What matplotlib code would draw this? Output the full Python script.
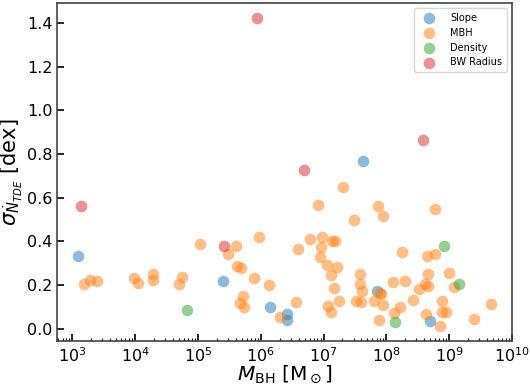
import numpy as np
import matplotlib
matplotlib.use("Agg")
from matplotlib import pyplot as plt

# log10(M_BH / M_sun) and sigma [dex]
slope_logm = [3.085, 5.40, 6.14, 6.42, 6.42, 7.63, 7.85, 8.70]
slope_sig = [0.331, 0.217, 0.100, 0.069, 0.038, 0.770, 0.175, 0.035]

mbh_logm = [3.18, 3.28, 3.39, 3.976, 4.05, 4.285, 4.285, 4.70, 4.75, 5.04,
            5.48, 5.61, 5.62, 5.68, 5.675, 5.71, 5.74, 5.89, 5.98, 6.13,
            6.30, 6.556, 6.60, 6.78, 6.91, 6.95, 6.965, 6.976, 7.05, 7.065,
            7.12, 7.12, 7.135, 7.18, 7.17, 7.21, 7.25, 7.315, 7.48, 7.51,
            7.58, 7.58, 7.59, 7.62, 7.81, 7.87, 7.89, 7.90, 7.92, 7.95,
            7.95, 8.10, 8.12, 8.22, 8.255, 8.29, 8.43, 8.52, 8.61, 8.625,
            8.65, 8.67, 8.67, 8.775, 8.78, 8.85, 8.88, 8.89, 8.95, 8.99,
            9.08, 9.40, 9.67]
mbh_sig = [0.207, 0.224, 0.221, 0.233, 0.210, 0.252, 0.223, 0.203, 0.235, 0.388,
           0.342, 0.378, 0.288, 0.279, 0.119, 0.150, 0.098, 0.232, 0.420, 0.201,
           0.056, 0.122, 0.366, 0.412, 0.567, 0.330, 0.375, 0.418, 0.290, 0.105,
           0.246, 0.075, 0.400, 0.403, 0.188, 0.282, 0.127, 0.647, 0.500, 0.127,
           0.249, 0.204, 0.124, 0.175, 0.127, 0.560, 0.041, 0.165, 0.160, 0.514,
           0.111, 0.214, 0.072, 0.102, 0.352, 0.218, 0.133, 0.182, 0.204, 0.070,
           0.331, 0.250, 0.194, 0.340, 0.548, 0.014, 0.079, 0.128, 0.076, 0.255,
           0.189, 0.047, 0.114]

dens_logm = [4.82, 8.14, 8.92, 9.15]
dens_sig = [0.086, 0.029, 0.380, 0.204]

bw_logm = [3.14, 5.41, 5.94, 6.69, 8.585]
bw_sig = [0.564, 0.381, 1.420, 0.728, 0.864]

groups = [("Slope", slope_logm, slope_sig, "tab:blue"),
          ("MBH", mbh_logm, mbh_sig, "tab:orange"),
          ("Density", dens_logm, dens_sig, "tab:green"),
          ("BW Radius", bw_logm, bw_sig, "tab:red")]

fig = plt.figure(figsize=(5.3, 3.85), dpi=100)
ax = fig.add_axes([0.108, 0.114, 0.858, 0.878])

for name, lm, sg, col in groups:
    ax.scatter(10 ** np.array(lm), sg, s=70, color=col, alpha=0.5,
               linewidths=0, label=name)

ax.set_xscale("log")
ax.set_xlim(10 ** 2.76, 1e10)
ax.set_xticks([1e3, 1e4, 1e5, 1e6, 1e7, 1e8, 1e9, 1e10])
ax.set_yticks([0.0, 0.2, 0.4, 0.6, 0.8, 1.0, 1.2, 1.4])
ax.tick_params(which="major", direction="in", length=5, width=1.2, labelsize=11.5)
ax.tick_params(which="minor", direction="in", length=2.5, width=0.8)
for sp in ax.spines.values():
    sp.set_color("#444444")
    sp.set_linewidth(1.2)

ax.set_xlabel(r"$M_{\rm BH}$ [M$_\odot$]", fontsize=14.5, labelpad=-1)
ax.set_ylabel(r"$\sigma_{\dot{N}_{TDE}}$ [dex]", fontsize=15, labelpad=1)
ax.legend(loc="upper right", fontsize=7, handletextpad=1.2, borderpad=0.5)

fig.savefig("out.png", dpi=100)
